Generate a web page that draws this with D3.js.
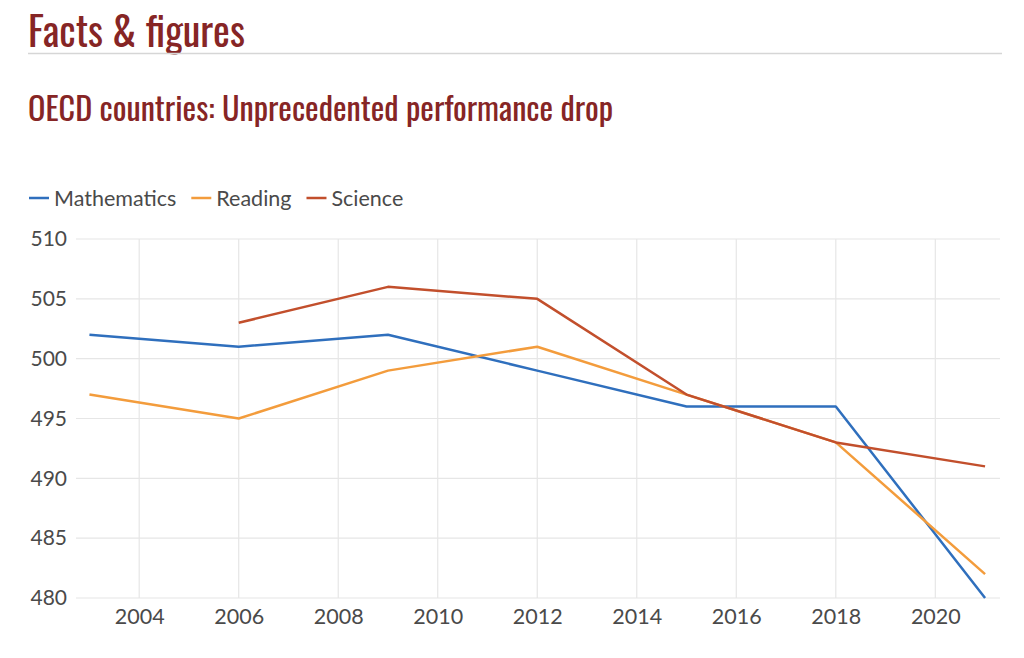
<!DOCTYPE html>
<html>
<head>
<meta charset="utf-8">
<script src="https://cdn.jsdelivr.net/npm/d3@7"></script>
<style>
  body { margin: 0; background: #fff; }
  svg { display: block; }
  .head { font-family: 'Oswald', 'Liberation Sans Narrow', 'DejaVu Sans Condensed', sans-serif; fill: #862525; }
  .lbl { font-family: Lato, 'Noto Sans', sans-serif; fill: #4a4a4a; }
</style>
</head>
<body>
<svg id="chart" width="1024" height="658"></svg>
<script>
const years = [2003, 2006, 2009, 2012, 2015, 2018, 2021];
const mathematics = [502, 501, 502, 499, 496, 496, 480];
const reading = [497, 495, 499, 501, 497, 493, 482];
const science = [null, 503, 506, 505, 497, 493, 491];
const xTicks = [2004, 2006, 2008, 2010, 2012, 2014, 2016, 2018, 2020];
const yTicks = [480, 485, 490, 495, 500, 505, 510];

const series = [
  { name: 'Mathematics', values: mathematics, color: '#2f6fbd' },
  { name: 'Reading', values: reading, color: '#f39c3c' },
  { name: 'Science', values: science, color: '#c24f2c' },
];

const svg = d3.select('#chart');

// headings
svg.append('text').attr('class', 'head')
  .attr('x', 28).attr('y', 47)
  .attr('font-size', 40)
  .text('Facts & figures');

svg.append('line')
  .attr('x1', 28).attr('x2', 1002).attr('y1', 53.5).attr('y2', 53.5)
  .attr('stroke', '#d6d6d6').attr('stroke-width', 1.5);

svg.append('text').attr('class', 'head')
  .attr('x', 28).attr('y', 121)
  .attr('font-size', 32.3)
  .text('OECD countries: Unprecedented performance drop');

// scales
let x = d3.scaleLinear().domain([2002.73, 2021.3]).range([76, 1000]);
let y = d3.scaleLinear().domain([480, 510]).range([598, 239]);

// grid
svg.append('g')
  .selectAll('line').data(yTicks).join('line')
  .attr('x1', 76).attr('x2', 1000)
  .attr('y1', (d) => y(d)).attr('y2', (d) => y(d))
  .attr('stroke', '#e6e6e6').attr('stroke-width', 1.2);

svg.append('g')
  .selectAll('line').data(xTicks).join('line')
  .attr('x1', (d) => x(d)).attr('x2', (d) => x(d))
  .attr('y1', y(510)).attr('y2', y(480))
  .attr('stroke', '#e6e6e6').attr('stroke-width', 1.2);

// axes
let yAxis = svg.append('g')
  .attr('transform', 'translate(67,0)')
  .call(d3.axisLeft(y).tickValues(yTicks).tickSize(0).tickPadding(0));
yAxis.select('.domain').remove();
yAxis.selectAll('text').attr('class', 'lbl').attr('font-size', 21).attr('fill', null);

let xAxis = svg.append('g')
  .attr('transform', `translate(0,${y(480)})`)
  .call(d3.axisBottom(x).tickValues(xTicks).tickFormat(d3.format('d')).tickSize(0).tickPadding(11));
xAxis.select('.domain').remove();
xAxis.selectAll('text').attr('class', 'lbl').attr('font-size', 21.5).attr('fill', null);

// lines
let line = d3.line()
  .defined((d) => d[1] !== null)
  .x((d) => x(d[0]))
  .y((d) => y(d[1]));

series.forEach((s) => {
  svg.append('path')
    .datum(years.map((yr, i) => [yr, s.values[i]]))
    .attr('d', line)
    .attr('fill', 'none')
    .attr('stroke', s.color)
    .attr('stroke-width', 2.5)
    .attr('stroke-linejoin', 'round');
});

// legend
let legend = svg.append('g').attr('transform', 'translate(29,198)');
let lx = 0;
series.forEach((s) => {
  let item = legend.append('g').attr('transform', `translate(${lx},0)`);
  item.append('line')
    .attr('x1', 0).attr('x2', 20).attr('y1', 0).attr('y2', 0)
    .attr('stroke', s.color).attr('stroke-width', 2.5);
  let t = item.append('text').attr('class', 'lbl')
    .attr('x', 25).attr('y', 7.5)
    .attr('font-size', 21.5)
    .text(s.name);
  lx += 25 + t.node().getComputedTextLength() + 15;
});
</script>
</body>
</html>
